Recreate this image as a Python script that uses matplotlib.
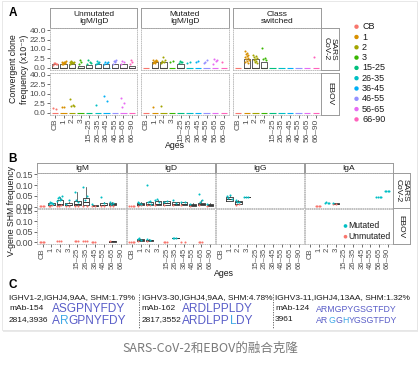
import numpy as np
import matplotlib
matplotlib.use('Agg')
import matplotlib.pyplot as plt
from matplotlib.patches import Rectangle
from matplotlib.font_manager import FontProperties

plt.rcParams['font.family'] = ['Liberation Sans', 'DejaVu Sans']

W, H = 419, 375

ages = ['CB', '1', '2', '3', '15–25', '26–35', '36–45', '46–55', '56–65', '66–90']
legend_ages = ['CB', '1', '2', '3', '15-25', '26-35', '36-45', '46-55', '56-65', '66-90']
age_colors = ['#F8766D', '#D89000', '#A3A500', '#39B600', '#00BF7D',
              '#00BFC4', '#00B0F6', '#9590FF', '#E76BF3', '#FF62BC']

# ---- panel A: convergent clone frequency (x10^-5), points per age group
a_unmut_sars = [[0.2, 0.4, 0.6, 0.3, 0.5], [0.3, 0.5, 0.7, 0.9, 1.0, 0.8, 0.6, 0.4, 1.1],
                [0.3, 0.5, 0.7, 0.9, 1.0, 0.8, 0.6, 1.1], [0.4, 1.0, 1.5], [0.3, 0.8, 1.6, 0.5],
                [0.4, 0.7, 1.3, 1.0, 0.5], [0.4, 0.6, 1.0, 0.8], [0.4, 0.8, 1.4, 1.8, 1.2],
                [0.3, 0.9, 1.4], [0.3, 1.0, 1.7]]
a_mut_sars = [[], [0.5, 0.7, 0.9, 1.1, 1.3, 1.5, 1.7, 0.8, 1.2], [0.6, 0.9, 1.3, 1.6, 3.0, 1.0],
              [0.9, 1.1], [0.6, 1.0, 1.4, 0.8], [0.7, 1.0], [0.8, 1.1], [0.6, 1.5, 1.0],
              [0.4, 1.3, 2.0, 1.6], [0.9]]
a_cs_sars = [[], [8.0, 6.5, 5.5, 4.5, 3.8, 3.2, 2.7, 2.2, 1.8, 1.4, 1.0, 0.7],
             [4.8, 3.8, 3.2, 2.6, 2.2, 1.8, 1.4, 1.0, 0.7], [11.0, 2.8, 2.2, 1.6],
             [], [], [], [], [], [3.0]]
a_unmut_ebov = [[0.7, 0.4], [1.0, 0.8], [5.4, 1.6, 1.3, 1.1], [], [], [1.6], [7.7, 3.8], [],
                [5.8, 2.8, 1.0], []]
a_mut_ebov = [[], [0.9], [1.2], [], [], [], [], [], [], []]
a_cs_ebov = [[], [], [], [], [], [], [], [], [], []]
# upper quartile of the boxes (lower quartile and median sit at 0)
a_unmut_sars_q3 = [0.3, 0.35, 0.35, 0.1, 0.15, 0.35, 0.35, 0.45, 0.3, 0.05]
a_mut_sars_q3 = [0, 0.9, 0.9, 0, 0.45, 0, 0, 0, 0, 0]
a_cs_sars_q3 = [0, 2.3, 2.3, 0.9, 0, 0, 0, 0, 0, 0]

# ---- panel B: V-gene SHM frequency; box = (q1, median, q3, upper whisker)
igm_sars_box = [None, (0.006, 0.010, 0.016, 0.022), (0.006, 0.012, 0.030, 0.046),
                (0.006, 0.010, 0.016, 0.020), (0.006, 0.012, 0.028, 0.070),
                (0.006, 0.020, 0.040, 0.090), (0.003, 0.005, 0.008, 0.010),
                (0.006, 0.010, 0.016, 0.022), (0.006, 0.012, 0.019, 0.022), None]
igm_sars_mut = [[], [0.012, 0.016, 0.020, 0.015, 0.018], [0.025, 0.035, 0.045, 0.050, 0.030, 0.040],
                [0.014, 0.030], [0.070, 0.022, 0.030], [0.090, 0.050, 0.030], [0.012],
                [0.045, 0.016], [0.020, 0.016, 0.014], []]
igm_sars_unmut = [[0.002, 0.002, 0.003, 0.002], [0.004, 0.006, 0.005], [0.004, 0.006, 0.005],
                  [0.005, 0.004], [0.004, 0.005], [0.005, 0.004], [0.003, 0.003], [0.004, 0.004],
                  [0.004, 0.005], []]
igm_ebov_box = [None, None, None, None, None, None, None, None, (0.003, 0.004, 0.005, 0.005), None]
igm_ebov_mut = [[], [], [], [], [], [], [], [], [], []]
igm_ebov_unmut = [[0.002, 0.002, 0.003, 0.002], [], [0.005, 0.004, 0.005], [], [0.005, 0.006, 0.005],
                  [0.004, 0.005, 0.004], [0.002, 0.003, 0.002], [], [0.004], []]

igd_sars_box = [None, (0.006, 0.012, 0.017, 0.022), (0.006, 0.012, 0.020, 0.025),
                (0.006, 0.014, 0.025, 0.030), (0.010, 0.018, 0.025, 0.028),
                (0.006, 0.012, 0.020, 0.024), (0.008, 0.014, 0.020, 0.024),
                (0.005, 0.010, 0.015, 0.018), (0.006, 0.012, 0.018, 0.030),
                (0.005, 0.010, 0.015, 0.018)]
igd_sars_mut = [[], [0.020, 0.015, 0.018], [0.100, 0.025, 0.020, 0.015], [0.030, 0.020, 0.035],
                [0.020, 0.025], [0.030, 0.018], [0.020, 0.024], [0.014], [0.060, 0.030, 0.020], [0.014]]
igd_sars_unmut = [[0.002, 0.002, 0.003, 0.002], [0.005, 0.006], [0.006, 0.008], [0.006], [0.010],
                  [0.006], [0.008], [0.005], [0.006], [0.005]]
igd_ebov_box = [None, (0.005, 0.010, 0.015, 0.018), (0.008, 0.010, 0.012, 0.014), None, None,
                (0.019, 0.020, 0.021, 0.021), None, None, None, None]
igd_ebov_mut = [[], [0.018, 0.012, 0.020], [0.015, 0.012], [], [], [0.020, 0.020, 0.021], [], [], [], []]
igd_ebov_unmut = [[0.002, 0.003, 0.002, 0.002], [0.004], [0.006], [], [0.003, 0.003, 0.002], [],
                  [0.002, 0.003], [], [0.003, 0.002, 0.003], []]

igg_sars_box = [None, (0.028, 0.037, 0.046, 0.050), (0.013, 0.020, 0.028, 0.032),
                (0.046, 0.046, 0.046, 0.046), None, None, None, None, None, None]
igg_sars_mut = [[], [0.050, 0.054, 0.042, 0.038], [0.030, 0.020, 0.024], [0.046, 0.046, 0.047],
                [], [], [], [], [], []]
igg_sars_unmut = [[], [], [0.010, 0.014], [], [], [], [], [], [], []]

iga_sars_box = [None, None, None, (0.011, 0.013, 0.016, 0.017), None, None, None, None, None, None]
iga_sars_mut = [[], [], [0.019, 0.019, 0.020, 0.019], [0.016], [], [], [], [],
                [0.043, 0.043, 0.044, 0.043], [0.072, 0.072, 0.073, 0.072]]
iga_sars_unmut = [[], [0.002, 0.002, 0.003, 0.002], [], [0.012, 0.014], [], [], [], [], [], []]

no_box = [None] * 10
no_pts = [[], [], [], [], [], [], [], [], [], []]

# ---- panel C text
c_heads = ['IGHV1-2,IGHJ4,9AA, SHM:1.79%', 'IGHV3-30,IGHJ4,9AA, SHM:4.78%',
           'IGHV3-11,IGHJ4,13AA, SHM:1.32%']
c_mabs = ['mAb-154', 'mAb-162', 'mAb-124']
c_ids = ['2814,3936', '2817,3552', '3961']
c_seq_top = ['ASGPNYFDY', 'ARDLPPLDY', 'ARMGPYGSGTFDY']
c_seq_bot = ['ARGPNYFDY', 'ARDLPPLDY', 'ARGGHYGSGTFDY']
c_seq_light = [[1], [6], [2, 4]]   # positions drawn in light blue

DARK = '#1a1a1a'
GREY = '#4d4d4d'
MUT, UNMUT = '#00BFC4', '#F8766D'


def box(x0, y0, x1, y1):
    return [x0 / W, 1 - y1 / H, (x1 - x0) / W, (y1 - y0) / H]


def spread(n, w=0.5):
    return ((np.arange(n) * 0.618034) % 1 - 0.5) * w


def sgn_sqrt(v):
    return np.sign(v) * np.sqrt(np.abs(v))


def sgn_sq(v):
    return np.sign(v) * v ** 2


def style(ax, ysize, xsize):
    for sp in ax.spines.values():
        sp.set_linestyle(':')
        sp.set_color('#b5b5b5')
        sp.set_linewidth(0.6)
    ax.tick_params(length=2, width=0.5, color='#333333', labelcolor=GREY, pad=1)
    ax.tick_params(axis='y', labelsize=ysize)
    ax.tick_params(axis='x', labelsize=xsize)
    ax.set_xlim(-0.6, 9.6)
    ax.set_facecolor('none')


def strip(rect, label, rot=0):
    s = fig.add_axes(box(*rect))
    s.set_xticks([])
    s.set_yticks([])
    s.set_facecolor('white')
    for sp in s.spines.values():
        sp.set_color('#9a9a9a')
        sp.set_linewidth(0.7)
    s.text(0.5, 0.5, label, ha='center', va='center', rotation=rot, fontsize=6,
           linespacing=1.0, color=DARK, transform=s.transAxes)


fig = plt.figure(figsize=(W / 100, H / 100), dpi=100)
fig.patch.set_facecolor('white')

bg = fig.add_axes([0, 0, 1, 1], zorder=-10)
bg.set_xlim(0, W)
bg.set_ylim(H, 0)
bg.axis('off')
bg.add_patch(Rectangle((2.5, 2.5), 415, 329, fc='#e9e9e9', ec='none'))
bg.add_patch(Rectangle((1.5, 1.0), 415, 328.5, fc='white', ec='#e4e4e4', lw=0.6))

# ================= panel A =================
a_cols = [(50, 137), (141, 229), (233, 321)]
a_rows = [(28.3, 69.5), (72.8, 114.6)]
a_titles = ['Unmutated\nIgM/IgD', 'Mutated\nIgM/IgD', 'Class\nswitched']
a_points = [[a_unmut_sars, a_mut_sars, a_cs_sars], [a_unmut_ebov, a_mut_ebov, a_cs_ebov]]
a_q3 = [[a_unmut_sars_q3, a_mut_sars_q3, a_cs_sars_q3], [None, None, None]]
xs = np.arange(10)

for c, (x0, x1) in enumerate(a_cols):
    strip((x0, 8.3, x1, 28.3), a_titles[c])
    for r, (y0, y1) in enumerate(a_rows):
        ax = fig.add_axes(box(x0, y0, x1, y1))
        ax.set_yscale('function', functions=(sgn_sqrt, sgn_sq))
        ax.set_ylim(-0.1, 44.1)
        style(ax, 6, 6)
        for i in xs:
            ax.hlines(0, i - 0.38, i + 0.38, color=age_colors[i], lw=0.8, zorder=2)
        q3 = a_q3[r][c]
        if q3 is not None:
            stats = [dict(q1=0, med=0, q3=q, whislo=0, whishi=q, fliers=[]) for q in q3 if q > 0]
            pos = [i for i in xs if q3[i] > 0]
            ax.bxp(stats, positions=pos, widths=0.75, showfliers=False, showcaps=False,
                   boxprops=dict(color='#444444', lw=0.6),
                   medianprops=dict(color='#444444', lw=0.6),
                   whiskerprops=dict(lw=0), manage_ticks=False, zorder=3)
        for i, vals in enumerate(a_points[r][c]):
            if vals:
                ax.scatter(i + spread(len(vals)), vals, s=2.2, color=age_colors[i],
                           lw=0, zorder=4)
        if c == 0:
            ax.set_yticks([0, 2.5, 10, 22.5, 40], ['0.0', '2.5', '10.0', '22.5', '40.0'])
        else:
            ax.set_yticks([0, 2.5, 10, 22.5, 40], [])
            ax.tick_params(axis='y', length=0)
        ax.set_xticks(xs, ages if r == 1 else [], rotation=90)
        if r == 0:
            ax.tick_params(axis='x', length=0)
strip((321, 28.3, 339, 69.5), 'SARS\nCoV-2', rot=270)
strip((321, 72.8, 339, 114.6), 'EBOV', rot=270)

# ================= panel B =================
b_cols = [(37.3, 126.2), (126.7, 215.3), (215.8, 304.3), (304.8, 392.7)]
b_rows = [(172.7, 208.4), (209.4, 243.9)]
b_titles = ['IgM', 'IgD', 'IgG', 'IgA']
b_box = [[igm_sars_box, igd_sars_box, igg_sars_box, iga_sars_box],
         [igm_ebov_box, igd_ebov_box, no_box, no_box]]
b_mut = [[igm_sars_mut, igd_sars_mut, igg_sars_mut, iga_sars_mut],
         [igm_ebov_mut, igd_ebov_mut, no_pts, no_pts]]
b_unmut = [[igm_sars_unmut, igd_sars_unmut, igg_sars_unmut, iga_sars_unmut],
           [igm_ebov_unmut, igd_ebov_unmut, no_pts, no_pts]]

for c, (x0, x1) in enumerate(b_cols):
    strip((x0, 163.3, x1, 172.7), b_titles[c])
    for r, (y0, y1) in enumerate(b_rows):
        ax = fig.add_axes(box(x0, y0, x1, y1))
        ax.set_ylim(-0.0075, 0.1575)
        style(ax, 6.5, 5.5)
        bx = b_box[r][c]
        stats = [dict(q1=b[0], med=b[1], q3=b[2], whislo=b[0], whishi=b[3], fliers=[])
                 for b in bx if b is not None]
        pos = [i for i in xs if bx[i] is not None]
        if stats:
            ax.bxp(stats, positions=pos, widths=0.75, showfliers=False, showcaps=False,
                   boxprops=dict(color='#333333', lw=0.6),
                   medianprops=dict(color='#333333', lw=0.7),
                   whiskerprops=dict(color='#333333', lw=0.5), manage_ticks=False, zorder=3)
        for i in xs:
            u = b_unmut[r][c][i]
            m = b_mut[r][c][i]
            if u:
                ax.scatter(i + spread(len(u), 0.6), u, s=2.2, color=UNMUT, lw=0, zorder=4)
            if m:
                ax.scatter(i + spread(len(m), 0.6), m, s=2.2, color=MUT, lw=0, zorder=4)
        if c == 0:
            ax.set_yticks([0, 0.05, 0.10, 0.15], ['0.00', '0.05', '0.10', '0.15'])
        else:
            ax.set_yticks([0, 0.05, 0.10, 0.15], [])
            ax.tick_params(axis='y', length=0)
        ax.set_xticks(xs, ages if r == 1 else [], rotation=90)
        if r == 0:
            ax.tick_params(axis='x', length=0)
strip((392.7, 172.7, 410, 208.4), 'SARS\nCoV-2', rot=270)
strip((392.7, 208.4, 410, 243.9), 'EBOV', rot=270)

# ================= overlay text =================
ov = fig.add_axes([0, 0, 1, 1], zorder=20)
ov.set_xlim(0, W)
ov.set_ylim(H, 0)
ov.axis('off')
ov.patch.set_alpha(0)

for lab, x, y in [('A', 9, 13), ('B', 8, 159), ('C', 8, 285)]:
    ov.text(x, y, lab, fontsize=8.5, fontweight='bold', va='center', ha='left', color='black')

ov.text(19, 69, 'Convergent clone\nfrequency (x10⁻⁵)', rotation=90, ha='center', va='center',
        fontsize=6.3, linespacing=1.35, color=DARK)
ov.text(175, 146, 'Ages', ha='center', va='center', fontsize=6.3, color=DARK)
ov.text(11, 211, 'V-gene SHM frequency', rotation=90, ha='center', va='center',
        fontsize=6.2, color=DARK)
ov.text(224, 273.5, 'Ages', ha='center', va='center', fontsize=6.3, color=DARK)

# legend A
leg_y = 26.7 + 10.3 * np.arange(10)
ov.scatter(np.full(10, 356.5), leg_y, s=10, c=age_colors, lw=0)
for y, lab in zip(leg_y, legend_ages):
    ov.text(362, y, lab, fontsize=6.5, va='center', ha='left', color=DARK)

# legend B
ov.scatter([345.5, 345.5], [226, 236.7], s=7, c=[MUT, UNMUT], lw=0)
ov.text(348.5, 226, 'Mutated', fontsize=6.2, va='center', ha='left', color=DARK)
ov.text(348.5, 236.7, 'Unmutated', fontsize=6.2, va='center', ha='left', color=DARK)

# panel C
SEQ, SEQ_LIGHT = '#5a5ec8', '#3fa9e6'
c_x = [9, 141.5, 275]
c_seq_x = [51.7, 182, 316]
c_seq_fs = [8.6, 8.6, 6.3]
rend = fig.canvas.get_renderer()


def advance(s, fs):
    # pen advance of s in pixels: width of '|s|' minus width of '||'
    prop = FontProperties(family='Liberation Sans', size=fs)
    w1 = rend.get_text_width_height_descent('|' + s + '|', prop, False)[0]
    w0 = rend.get_text_width_height_descent('||', prop, False)[0]
    return w1 - w0


for k in range(3):
    ov.text(c_x[k], 297.5, c_heads[k], fontsize=6, va='center', ha='left', color=DARK)
    ov.text(c_x[k], 308.5, c_mabs[k], fontsize=6, va='center', ha='left', color=DARK)
    ov.text(c_x[k], 319.5, c_ids[k], fontsize=6, va='center', ha='left', color=DARK)
    ov.text(c_seq_x[k], 309.5, c_seq_top[k], fontsize=c_seq_fs[k], va='center', ha='left',
            color=SEQ)
    seq = c_seq_bot[k]
    # split the lower sequence into runs of one colour
    cuts = sorted(set([0, len(seq)] + c_seq_light[k] + [j + 1 for j in c_seq_light[k]]))
    for a, b in zip(cuts[:-1], cuts[1:]):
        col = SEQ_LIGHT if a in c_seq_light[k] else SEQ
        x_run = c_seq_x[k] + (advance(seq[:a], c_seq_fs[k]) if a else 0)
        ov.text(x_run, 320.5, seq[a:b], fontsize=c_seq_fs[k], va='center', ha='left', color=col)
for x in [138.5, 273]:
    ov.plot([x, x], [294, 329], color='#555555', lw=0.6, ls=(0, (1.5, 1.5)))

fig.text(210 / W, 1 - 348 / H, 'SARS-CoV-2和EBOV的融合克隆', ha='center', va='center',
         fontsize=9, color='#7a7a7a', family=['Noto Sans CJK SC', 'DejaVu Sans'])

fig.savefig('out.png', dpi=100, facecolor=fig.get_facecolor())
